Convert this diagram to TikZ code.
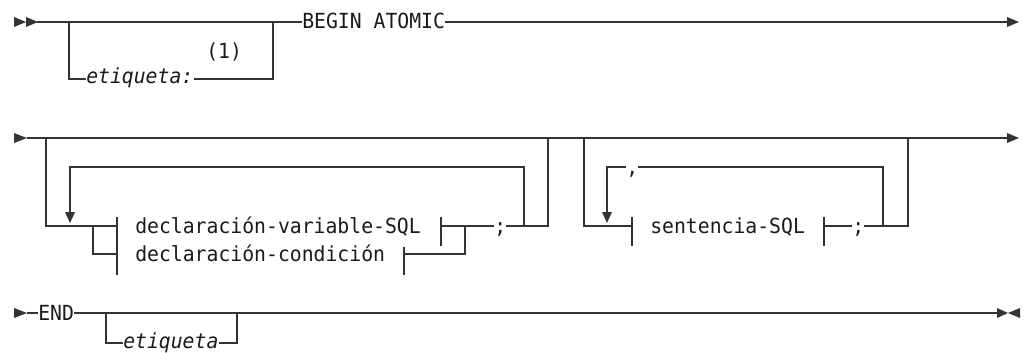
\documentclass[tikz,border=0pt]{standalone}
\usepackage{fontspec}
\newfontfamily\diagfont[FakeStretch=0.95]{DejaVu Sans Mono}
\definecolor{linec}{HTML}{333333}
\definecolor{txtc}{HTML}{1A1A1A}
\begin{document}
\begin{tikzpicture}[x=0.75pt,y=-0.75pt,
  rail/.style={draw=linec, line width=0.85pt},
  txt/.style={font=\diagfont\fontsize{15.6}{17}\selectfont, text=txtc, inner sep=0pt, anchor=base west},
  itxt/.style={font=\diagfont\itshape\fontsize{15.6}{17}\selectfont, text=txtc, inner sep=0pt, anchor=base west},
  tipfill/.style={fill=linec, draw=none}]
\useasboundingbox (0,0) rectangle (1024,353);

% ---------------- Row 1 ----------------
\fill[tipfill] (14,17) -- (26,22) -- (14,27) -- cycle;
\fill[tipfill] (26,17) -- (38,22) -- (26,27) -- cycle;
\coordinate (r1s) at (37,22);
\coordinate (r1a) at (69,22);
\coordinate (r1b) at (273,22);
\coordinate (r1e) at (1008,22);
\coordinate (r1bot) at (0,79);
\node[txt] (begin) at (302,29) {BEGIN ATOMIC};
\node[itxt] (etq1) at (86,84) {etiqueta:};
\node[txt] (note) at (206,59) {(1)};
\draw[rail] (r1s) -- (r1s -| begin.west);
\draw[rail] (r1s -| begin.east) -- (r1e);
\draw[rail] (r1a) |- (etq1.west |- r1bot);
\draw[rail] (etq1.east |- r1bot) -| (r1b);
\fill[tipfill] (1007,17) -- (1019,22) -- (1007,27) -- cycle;

% ---------------- Row 2 ----------------
\fill[tipfill] (14,133) -- (27,138) -- (14,143) -- cycle;
\coordinate (r2s) at (27,138);
\coordinate (r2e) at (1008,138);
\draw[rail] (r2s) -- (r2e);
\fill[tipfill] (1007,133) -- (1019,138) -- (1007,143) -- cycle;

% group A
\coordinate (a1) at (46,138);
\coordinate (a2) at (548,138);
\coordinate (ya) at (0,226);
\coordinate (yb) at (0,254);
\node[txt] (d1) at (135,233) {declaración-variable-SQL};
\node[txt] (d2) at (135,261) {declaración-condición};
\node[txt] (semi1) at (494,233) {;};
\coordinate (barA) at (117,226);
\draw[rail] (a1) |- (barA);
\draw[rail] (117,217) -- (117,275);
\draw[rail] (93,226) |- (117,254);
\draw[rail] (441,217) -- (441,246);
\draw[rail] (404,247) -- (404,275);
\draw[rail] (441,226) -- (semi1.west |- ya);
\draw[rail] (semi1.east |- ya) -| (a2);
\draw[rail] (404,254) -| (465,226);
\draw[rail] (524,226) |- (70,167) -- (70,212);
\fill[tipfill] (65,212) -- (75,212) -- (70,223) -- cycle;

% group B
\coordinate (b1) at (584,138);
\coordinate (b2) at (908,138);
\node[txt] (s1) at (650,233) {sentencia-SQL};
\node[txt] (semi2) at (852,233) {;};
\node[txt] (comma) at (626,174) {,};
\draw[rail] (b1) |- (632,226);
\draw[rail] (632,217) -- (632,246);
\draw[rail] (824,217) -- (824,246);
\draw[rail] (824,226) -- (semi2.west |- ya);
\draw[rail] (semi2.east |- ya) -| (b2);
\draw[rail] (883,226) |- (comma.east |- 0,167);
\draw[rail] (comma.west |- 0,167) -| (607,212);
\fill[tipfill] (602,212) -- (612,212) -- (607,223) -- cycle;

% ---------------- Row 3 ----------------
\fill[tipfill] (14,308) -- (27,313) -- (14,318) -- cycle;
\coordinate (r3s) at (27,313);
\coordinate (r3e) at (997,313);
\coordinate (r3bot) at (0,343);
\node[txt] (endt) at (38,320) {END};
\node[itxt] (etq2) at (123,348) {etiqueta};
\draw[rail] (r3s) -- (r3s -| endt.west);
\draw[rail] (r3s -| endt.east) -- (r3e);
\draw[rail] (106,313) |- (etq2.west |- r3bot);
\draw[rail] (etq2.east |- r3bot) -| (237,313);
\fill[tipfill] (997,308) -- (1008,313) -- (997,318) -- cycle;
\fill[tipfill] (1020,308) -- (1008,313) -- (1020,318) -- cycle;
\end{tikzpicture}
\end{document}
